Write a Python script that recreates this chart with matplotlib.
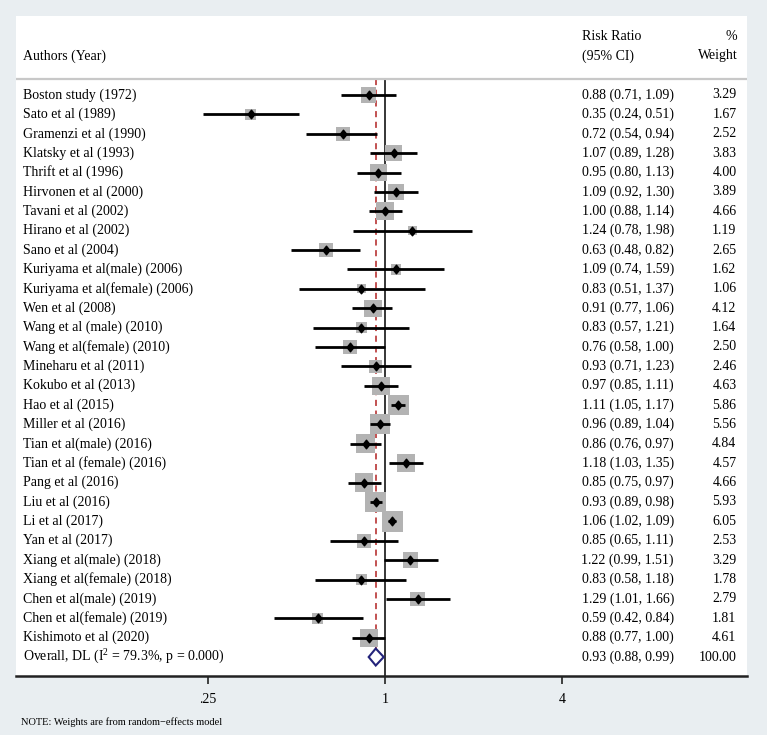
import numpy as np
import matplotlib
matplotlib.use("Agg")
import matplotlib.pyplot as plt
from matplotlib.patches import Rectangle, Polygon
from matplotlib.path import Path

plt.rcParams['font.family'] = ['Liberation Serif', 'DejaVu Serif']
plt.rcParams['mathtext.default'] = 'regular'

# study data
authors = [
    "Boston study (1972)", "Sato et al (1989)", "Gramenzi et al (1990)",
    "Klatsky et al (1993)", "Thrift et al (1996)", "Hirvonen et al (2000)",
    "Tavani et al (2002)", "Hirano et al (2002)", "Sano et al (2004)",
    "Kuriyama et al(male) (2006)", "Kuriyama et al(female) (2006)",
    "Wen et al (2008)", "Wang et al (male) (2010)", "Wang et al(female) (2010)",
    "Mineharu et al (2011)", "Kokubo et al (2013)", "Hao et al (2015)",
    "Miller et al (2016)", "Tian et al(male) (2016)", "Tian et al (female) (2016)",
    "Pang et al (2016)", "Liu et al (2016)", "Li et al (2017)", "Yan et al (2017)",
    "Xiang et al(male) (2018)", "Xiang et al(female) (2018)",
    "Chen et al(male) (2019)", "Chen et al(female) (2019)", "Kishimoto et al (2020)",
]
rr = [0.88, 0.35, 0.72, 1.07, 0.95, 1.09, 1.00, 1.24, 0.63, 1.09, 0.83, 0.91,
      0.83, 0.76, 0.93, 0.97, 1.11, 0.96, 0.86, 1.18, 0.85, 0.93, 1.06, 0.85,
      1.22, 0.83, 1.29, 0.59, 0.88]
lo = [0.71, 0.24, 0.54, 0.89, 0.80, 0.92, 0.88, 0.78, 0.48, 0.74, 0.51, 0.77,
      0.57, 0.58, 0.71, 0.85, 1.05, 0.89, 0.76, 1.03, 0.75, 0.89, 1.02, 0.65,
      0.99, 0.58, 1.01, 0.42, 0.77]
hi = [1.09, 0.51, 0.94, 1.28, 1.13, 1.30, 1.14, 1.98, 0.82, 1.59, 1.37, 1.06,
      1.21, 1.00, 1.23, 1.11, 1.17, 1.04, 0.97, 1.35, 0.97, 0.98, 1.09, 1.11,
      1.51, 1.18, 1.66, 0.84, 1.00]
weights = [3.29, 1.67, 2.52, 3.83, 4.00, 3.89, 4.66, 1.19, 2.65, 1.62, 1.06, 4.12,
           1.64, 2.50, 2.46, 4.63, 5.86, 5.56, 4.84, 4.57, 4.66, 5.93, 6.05, 2.53,
           3.29, 1.78, 2.79, 1.81, 4.61]

overall_label = "Overall, DL (I$^2$ = 79.3%, p = 0.000)"
overall_rr, overall_lo, overall_hi = 0.93, 0.88, 0.99

tick_vals = [0.25, 1, 4]
tick_labels = [".25", "1", "4"]

# pixel scale of the plot region
PX_X = 88.5    # pixels per doubling
PX_Y = 19.38   # pixels per row

fig = plt.figure(figsize=(7.67, 7.35), dpi=100)
fig.patch.set_facecolor('#e9eef1')
ax = fig.add_axes([16 / 767, 59 / 735, 731 / 767, 660 / 735])
ax.set_facecolor('white')

n = len(authors)
rows = np.arange(n)
x = np.log2(rr)

# CI lines
for i in range(n):
    ax.plot([np.log2(lo[i]), np.log2(hi[i])], [i, i], color='black', lw=2.0,
            solid_capstyle='butt', zorder=3)

# weight squares
for i in range(n):
    side = 8.5 * np.sqrt(weights[i])
    w = side / PX_X
    h = side / PX_Y
    ax.add_patch(Rectangle((x[i] - w / 2, i - h / 2), w, h, facecolor='#b3b3b3',
                           edgecolor='none', zorder=2))

# point estimates
diamond = Path([(0, 1), (0.8, 0), (0, -1), (-0.8, 0), (0, 1)],
               [Path.MOVETO, Path.LINETO, Path.LINETO, Path.LINETO, Path.CLOSEPOLY])
ax.plot(x, rows, linestyle='none', marker=diamond, markersize=6.2,
        color='black', zorder=4)

# overall diamond
yo = n
dh = 8.5 / PX_Y
ax.add_patch(Polygon([(np.log2(overall_lo), yo), (np.log2(overall_rr), yo - dh),
                      (np.log2(overall_hi), yo), (np.log2(overall_rr), yo + dh)],
                     closed=True, facecolor='white', edgecolor='#23237a', lw=1.5, zorder=4))

# reference lines
header_y = (79 - 95) / PX_Y
ax.plot([0, 0], [header_y, 40], color='black', lw=1.1, zorder=1)
ax.plot([np.log2(overall_rr)] * 2, [header_y, yo + dh + 0.02], color='#b22222',
        lw=1.1, dashes=(4, 3), zorder=1)
ax.axhline(header_y, color='#c8c8c8', lw=1.6)

# text columns
tr = ax.get_yaxis_transform()
fs = 10
for i in range(n):
    ax.text(0.0092, i, authors[i], transform=tr, fontsize=fs, va='center', ha='left')
    ax.text(0.9001, i, f"{rr[i]:.2f} ({lo[i]:.2f}, {hi[i]:.2f})", transform=tr,
            fontsize=fs, va='center', ha='right')
    ax.text(0.9856, i, f"{weights[i]:.2f}", transform=tr, fontsize=fs,
            va='center', ha='right')
ax.text(0.0092, yo, overall_label, transform=tr, fontsize=fs, va='center', ha='left')
ax.text(0.9001, yo, f"{overall_rr:.2f} ({overall_lo:.2f}, {overall_hi:.2f})",
        transform=tr, fontsize=fs, va='center', ha='right')
ax.text(0.9856, yo, "100.00", transform=tr, fontsize=fs, va='center', ha='right')

# headers
h1 = (36 - 95) / PX_Y
h2 = (56 - 95) / PX_Y
ax.text(0.0092, h2, "Authors (Year)", transform=tr, fontsize=fs, va='center', ha='left')
ax.text(0.7738, h1, "Risk Ratio", transform=tr, fontsize=fs, va='center', ha='left')
ax.text(0.7738, h2, "(95% CI)", transform=tr, fontsize=fs, va='center', ha='left')
ax.text(0.9870, h1, "%", transform=tr, fontsize=fs, va='center', ha='right')
ax.text(0.9870, h2, "Weight", transform=tr, fontsize=fs, va='center', ha='right')

# axes
ax.set_xlim((16 - 385) / PX_X, (747 - 385) / PX_X)
ax.set_ylim((676 - 95) / PX_Y, (16 - 95) / PX_Y)
ax.set_xticks(np.log2(tick_vals))
ax.set_xticklabels(tick_labels, fontsize=fs)
ax.set_yticks([])
ax.tick_params(axis='x', direction='out', length=6, width=1.2, color='#222222', pad=6)
for s in ['top', 'left', 'right']:
    ax.spines[s].set_visible(False)
ax.spines['bottom'].set_color('#222222')
ax.spines['bottom'].set_linewidth(1.8)

fig.text(21 / 767, 1 - 722 / 735, "NOTE: Weights are from random\u2212effects model",
         fontsize=7.5, va='center', ha='left')

fig.savefig("out.png", dpi=100, facecolor=fig.get_facecolor())
